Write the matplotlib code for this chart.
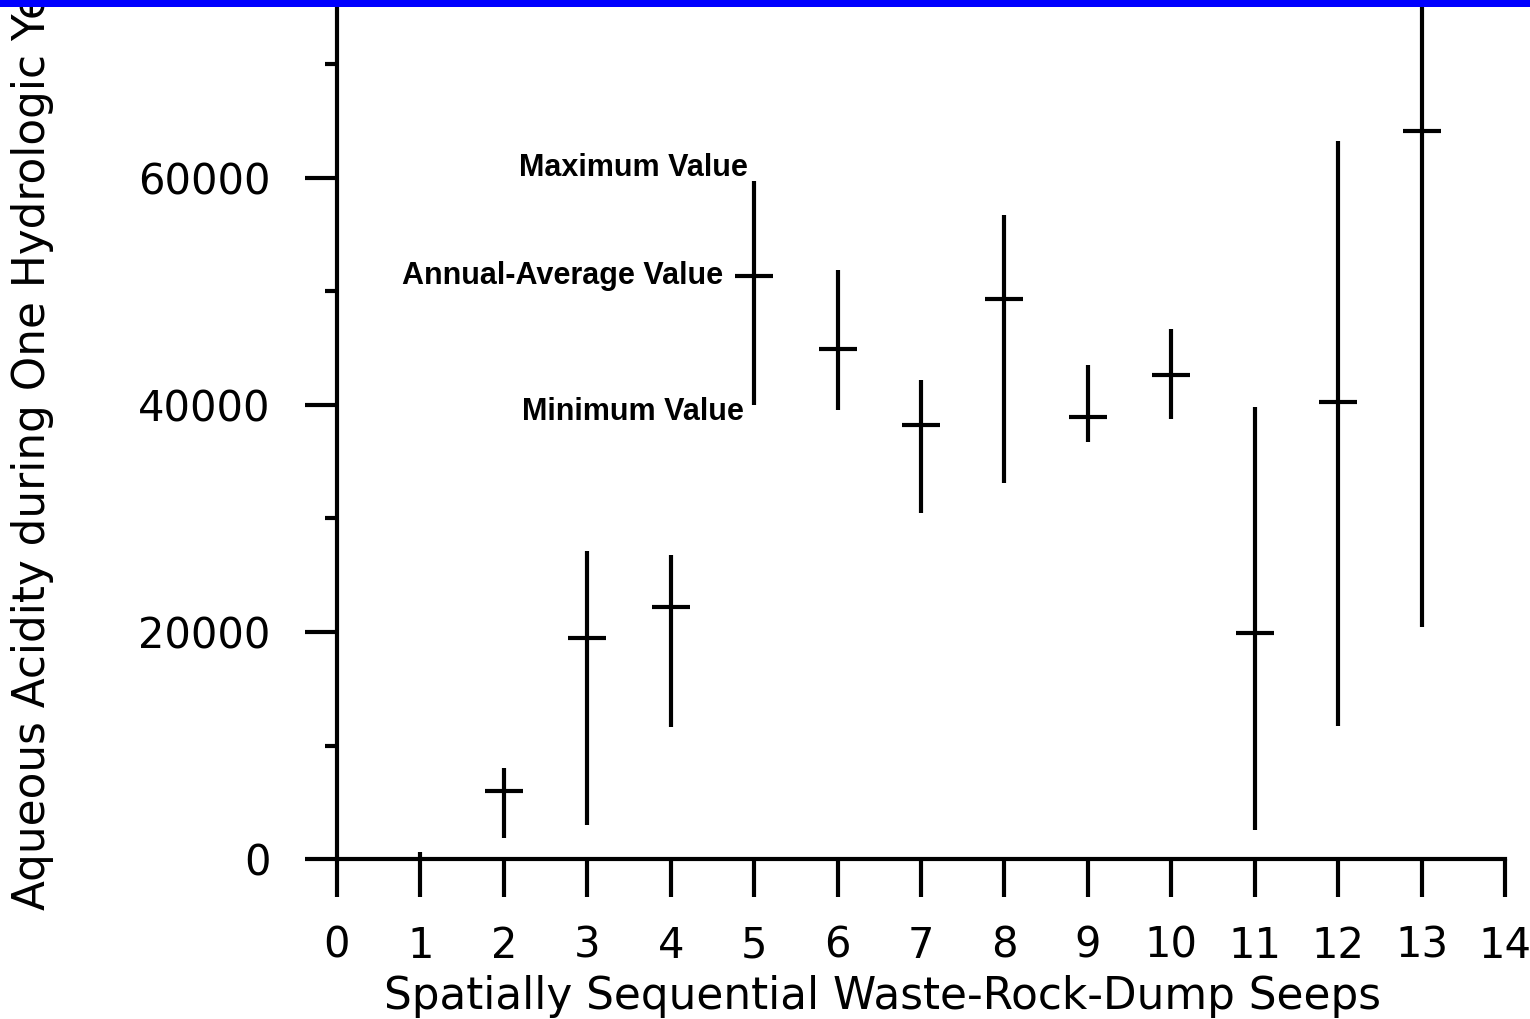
import matplotlib
matplotlib.use("Agg")
import matplotlib.pyplot as plt
import numpy as np
from matplotlib.patches import Rectangle

seeps = [1, 2, 3, 4, 5, 6, 7, 8, 9, 10, 11, 12, 13]
avg_vals = [np.nan, 6000, 19500, 22200, 51400, 44900, 38200, 49300, 38900, 42600, 19900, 40300, 64100]
max_vals = [600, 8000, 27100, 26800, 59700, 51900, 42200, 56700, 43500, 46700, 39800, 63300, 82000]
min_vals = [0, 1850, 3000, 11600, 40000, 39600, 30500, 33100, 36700, 38800, 2550, 11700, 20400]

x_ticks = list(range(0, 15))
y_ticks = [0, 20000, 40000, 60000]
y_minor = [10000, 30000, 50000, 70000]

plt.rcParams['font.family'] = ['DejaVu Sans']

W, H = 1530, 1019
fig = plt.figure(figsize=(W / 100, H / 100), dpi=100)
fig.patch.set_facecolor('white')

left = 337 / W
right = 1505 / W
bottom = 1 - 859 / H
ymax = 80000
px_per_unit = (859 - 178) / 60000
height = ymax * px_per_unit / H
ax = fig.add_axes([left, bottom, right - left, height])
ax.set_xlim(0, 14)
ax.set_ylim(0, ymax)

lw = 3.0
ax.vlines(seeps, min_vals, max_vals, colors='black', linewidth=lw, zorder=3)
ax.plot(seeps, avg_vals, linestyle='none', marker='_', markersize=27,
        markeredgewidth=lw, color='black', zorder=4)

for s in ['top', 'right']:
    ax.spines[s].set_visible(False)
for s in ['left', 'bottom']:
    ax.spines[s].set_linewidth(lw)
    ax.spines[s].set_color('black')

ax.set_xticks(x_ticks)
ax.set_xticklabels([str(t) for t in x_ticks])
ax.set_yticks(y_ticks)
ax.set_yticklabels([str(t) for t in y_ticks])
ax.set_yticks(y_minor, minor=True)

ax.tick_params(axis='x', direction='out', length=27.5, width=lw, pad=20,
               labelsize=30, colors='black')
ax.tick_params(axis='y', which='major', direction='out', length=23, width=lw,
               pad=25, labelsize=30, colors='black')
ax.tick_params(axis='y', which='minor', direction='out', length=8.5, width=lw)

fig.text(883 / W, 1 - 997 / H, "Spatially Sequential Waste-Rock-Dump Seeps",
         ha='center', va='center', fontsize=31.5, color='black')
fig.text(33 / W, 1 - 910 / H, "Aqueous Acidity during One Hydrologic Year",
         ha='center', va='bottom', rotation=90, fontsize=31.5, color='black')

afont = dict(fontsize=22, fontweight='bold', color='black',
             family=['Liberation Sans', 'DejaVu Sans'])
ax.text(4.93, 59700 + 1200, "Maximum Value", ha='right', va='center', **afont)
ax.text(4.63, 51400, "Annual-Average Value", ha='right', va='center', **afont)
ax.text(4.88, 39700 - 300, "Minimum Value", ha='right', va='center', **afont)

fig.add_artist(Rectangle((0, 1 - 7 / H), 1, 7 / H, transform=fig.transFigure,
                         facecolor='#0000ff', edgecolor='none', zorder=10))

fig.savefig("out.png", dpi=100)
